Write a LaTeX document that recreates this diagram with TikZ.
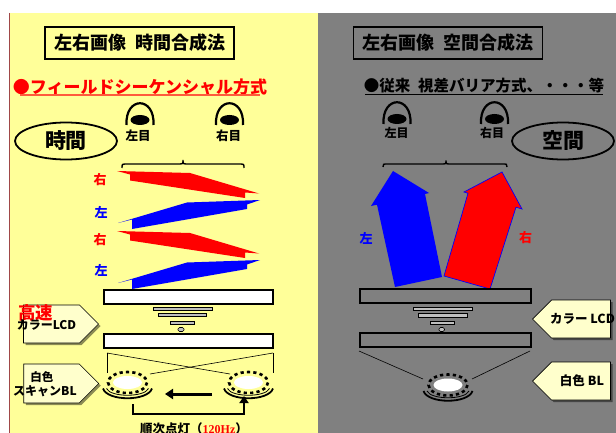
\documentclass[tikz,border=0pt]{standalone}
\usepackage{fontspec}
\setmainfont{Noto Sans CJK JP}[BoldFont={Noto Sans CJK JP Black}]
\newfontfamily\serifbf{Liberation Serif}[BoldFont={* Bold}]
\usetikzlibrary{arrows.meta,shapes.geometric,shapes.symbols,shadows}

\definecolor{panelyellow}{HTML}{FFFF99}
\definecolor{panelgray}{HTML}{808080}
\definecolor{tagfill}{HTML}{FFFFCC}
\definecolor{layergray}{HTML}{C0C0C0}
\definecolor{edgered}{HTML}{A04848}
\definecolor{ulred}{HTML}{FF5A3C}

\newcommand\fs[1]{\fontsize{#1}{#1}\selectfont}

\tikzset{
  lbl/.style={inner sep=0pt, font=\bfseries},
  titlebox/.style={draw, line width=1.8pt, minimum width=189pt, minimum height=32pt, inner sep=0pt, font=\fs{18}\bfseries},
  bubble/.style={ellipse, draw, line width=1.8pt, minimum width=102pt, minimum height=37pt, inner sep=0pt, font=\fs{21}\bfseries},
  tag/.style={signal, draw, line width=0.7pt, fill=tagfill, signal pointer angle=90, inner sep=0pt,
    minimum height=38pt, drop shadow={shadow xshift=2pt, shadow yshift=-2pt, opacity=0.45, fill=black}},
  panelbar/.style={line width=1.5pt},
  layer/.style={fill=layergray, draw=black, line width=0.6pt},
  ray/.style={line width=0.6pt},
  bracepath/.style={line width=1.4pt},
  eye/.pic={
    \draw[line width=2.2pt] (-13.5,5) .. controls (-15,-24) and (15,-24) .. (13.5,5);
    \fill (0,0) ellipse [x radius=9.5, y radius=5];
  },
  lamp/.pic={
    \fill[white] (0,0) ellipse [x radius=14.5, y radius=6.5];
    \draw[line width=2.6pt, dash pattern=on 3.2pt off 3.2pt] (0,0) ellipse [x radius=19.5, y radius=10.5];
    \draw[line width=1.8pt] (-24.5,6) .. controls (-20,19) and (20,19) .. (24.5,6);
    \draw[line width=0.8pt] (-21,6) .. controls (-17,15) and (17,15) .. (21,6);
  },
}

\begin{document}
\begin{tikzpicture}[x=1pt, y=-1pt]
\clip (0,0) rectangle (616,433);
\fill[white] (0,0) rectangle (616,433);

% two panels
\fill[panelyellow] (9,13) rectangle (318,433);
\fill[panelgray] (318,13) rectangle (616,433);
\draw[edgered, line width=1pt] (9.5,13) -- (9.5,433);

% ---------------- left panel: time-multiplexed ----------------
\node[titlebox] (titleL) at (139.5,43) {左右画像\hspace{0.5em}時間合成法};
\node[lbl, text=red, font=\fs{17}\bfseries] (subL) at (140,87.5) {●フィールドシーケンシャル方式};
\draw[ulred, line width=2pt] (20,95.5) -- (260,95.5);

\node[bubble] (timeL) at (66,141) {時間};

\pic at (140,120) {eye};
\pic at (229.5,120) {eye};
\node[lbl, font=\fs{12.5}\bfseries] (leyeL) at (138,135.5) {左目};
\node[lbl, font=\fs{12.5}\bfseries] (reyeL) at (228.5,135.5) {右目};

\draw[bracepath] (122,168) .. controls (122,164) .. (127,164) -- (178,164)
  .. controls (183,164) .. (183,160) .. controls (183,164) .. (188,164)
  -- (239,164) .. controls (244,164) .. (244,168);

% alternating right/left image fields
\foreach \dy in {0,60}{
  \fill[red, shift={(0,\dy)}] (117,171) -- (190,173) -- (259,193.5) -- (245,192.5) -- (245,198)
    -- (130,180.5) -- (130,174.5) -- cycle;
  \fill[blue, shift={(0,\dy)}] (118,223) -- (132,219.5) -- (132,229) -- (247,209) -- (247,204.5)
    -- (260,200) -- (187,202.5) -- cycle;
}
\node[lbl, text=red, font=\fs{13}\bfseries] (r1) at (100,180) {右};
\node[lbl, text=blue, font=\fs{13}\bfseries] (l1) at (101,212) {左};
\node[lbl, text=red, font=\fs{13}\bfseries] (r2) at (100,240) {右};
\node[lbl, text=blue, font=\fs{13}\bfseries] (l2) at (101,270) {左};

% LCD stack
\filldraw[panelbar, fill=white] (104,290) rectangle (273,304);
\filldraw[layer] (153,307.5) rectangle (212,310.5);
\filldraw[layer] (158,313.5) rectangle (206,316.5);
\filldraw[layer] (170,321) rectangle (194,324.5);
\filldraw[layer, rounded corners=1.5pt] (178,327.5) rectangle (184,331.5);
\filldraw[panelbar, fill=white] (104,334) rectangle (273,348);

\draw[ray] (107,353) -- (107,373);
\draw[ray] (273,353) -- (273,373);
\draw[ray] (107,353) -- (230,374);
\draw[ray] (273,353) -- (150,374);

% scanning backlights
\pic at (127.5,382.5) {lamp};
\pic at (248.5,382.5) {lamp};
\coordinate (scanA) at (212,394);
\coordinate (scanB) at (165,394);
\draw[line width=3pt, -{Triangle[length=8pt, width=10pt]}] (scanA) -- (scanB);
\coordinate (loopA) at (133,404);
\coordinate (loopB) at (244,396);
\draw[line width=2.5pt, -{Triangle[length=7pt, width=9pt]}] (loopA) -- (133,414) -- (244,414) -- (loopB);
\node[lbl, font=\fs{12.5}\bfseries] (seq) at (194,428.5) {順次点灯（{\serifbf\bfseries\fs{12}\color{red}120Hz}）};

\node[tag, signal to=east, minimum width=75pt] (tagLCDL) at (51.5,324) {};
\node[tag, signal to=east, minimum width=75pt, minimum height=39pt] (tagBLL) at (51.5,383.5) {};
\node[lbl, text=red, font=\fs{17.5}\bfseries] (fast) at (35.5,313) {高速};
\node[lbl, font=\fs{12}\bfseries] (lcdL) at (46.5,325.5) {カラーLCD};
\node[lbl, font=\fs{11.5}\bfseries] (whiteL) at (42,377) {白色};
\node[lbl, font=\fs{12}\bfseries] (scanL) at (45,391) {スキャンBL};

% ---------------- right panel: spatial ----------------
\node[titlebox] (titleR) at (448,43) {左右画像\hspace{0.5em}空間合成法};
\node[lbl, font=\fs{15.5}\bfseries] (subR) at (484,86) {●従来\hspace{0.5em}視差バリア方式、・・・等};
\draw[line width=1pt] (365,94.5) -- (603,94.5);

\node[bubble] (spaceR) at (563,141) {空間};

\pic at (397,119) {eye};
\pic at (494.5,119) {eye};
\node[lbl, font=\fs{12}\bfseries] (leyeR) at (396.5,132.5) {左目};
\node[lbl, font=\fs{12}\bfseries] (reyeR) at (492,132.5) {右目};

\draw[bracepath] (383,167) .. controls (383,164) .. (388,164) -- (441,164)
  .. controls (446,164) .. (446,160.5) .. controls (446,164) .. (451,164)
  -- (502,164) .. controls (507,164) .. (507,167);

\fill[blue] (393,171) -- (429,193) -- (425,194) -- (442,277) -- (395,287) -- (377,204.7) -- (371,206) -- cycle;
\filldraw[fill=red, draw=blue, line width=0.7pt] (502,172) -- (522,209) -- (516,207.2) -- (490,289)
  -- (444,276) -- (468,193.2) -- (464,192) -- cycle;
\node[lbl, text=blue, font=\fs{13}\bfseries] (lR) at (366,238) {左};
\node[lbl, text=red, font=\fs{13}\bfseries] (rR) at (525.5,238) {右};

\draw[panelbar] (360,289) rectangle (531,303);
\filldraw[layer] (413,307.5) rectangle (472,310.5);
\filldraw[layer] (418,313.5) rectangle (467,317);
\filldraw[layer] (430,321) rectangle (454,324.5);
\filldraw[layer, rounded corners=1.5pt] (439,327.5) rectangle (444.5,331.5);
\draw[panelbar] (360,333) rectangle (531,347);

\draw[ray] (359,351) -- (423,379);
\draw[ray] (530,351) -- (472,379);

\pic at (448,385) {lamp};

\node[tag, signal to=west, minimum width=78pt] (tagLCDR) at (581,319) {};
\node[tag, signal to=west, minimum width=78pt] (tagBLR) at (581,381) {};
\node[lbl, font=\fs{12.5}\bfseries] (lcdR) at (582.5,319) {カラー LCD};
\node[lbl, font=\fs{12.5}\bfseries] (whiteR) at (582,381) {白色 BL};
\end{tikzpicture}
\end{document}
